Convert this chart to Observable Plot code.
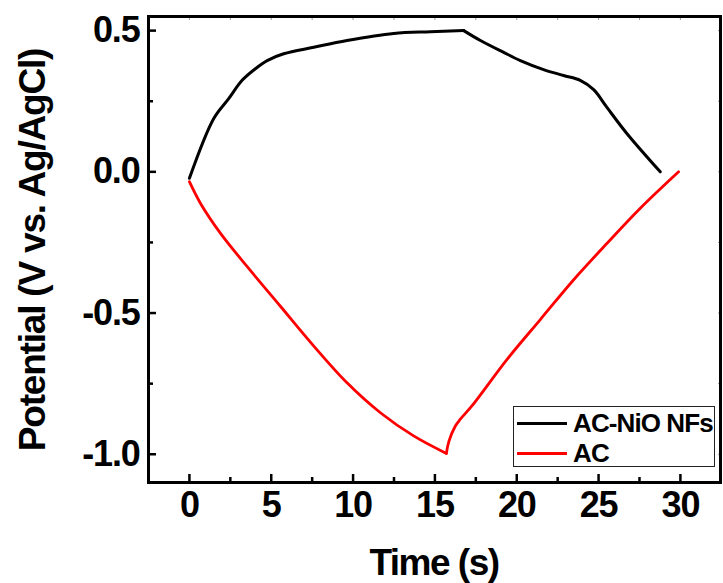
<!DOCTYPE html>
<html>
<head>
<meta charset="utf-8">
<script src="https://cdn.jsdelivr.net/npm/d3@7"></script>
<script src="https://cdn.jsdelivr.net/npm/@observablehq/plot@0.6"></script>
<style>
  html, body { margin: 0; padding: 0; background: #fff; }
  #chart { position: relative; width: 723px; height: 583px; }
  .legend { position: absolute; left: 513px; top: 406px; width: 202px; height: 61px;
    border: 1.5px solid #222; background: #fff; box-sizing: border-box;
    font-family: "Liberation Sans", Arial, sans-serif; font-weight: bold; font-size: 26px; letter-spacing: -0.9px; }
  .legend .row { position: absolute; left: 3px; height: 28px; display: flex; align-items: center; }
  .legend .sw { width: 50px; height: 0; border-top: 3px solid; margin-right: 6px; }
</style>
</head>
<body>
<div id="chart"></div>
<script>
// Series: AC-NiO NFs (black)
const nioTime = [0, 1.48, 2.4, 3.22, 4.03, 4.75, 5.76, 7.6, 9.63, 12.48, 14.72, 16.76, 17.78, 19.2, 20.22, 21.64, 22.86, 23.88, 24.7, 25.5, 26.74, 28.77];
const nioPotential = [-0.023, 0.188, 0.259, 0.324, 0.365, 0.394, 0.418, 0.441, 0.465, 0.49, 0.496, 0.5, 0.465, 0.423, 0.394, 0.362, 0.341, 0.324, 0.291, 0.229, 0.135, 0.0];
// Series: AC (red)
const acTime = [0, 0.67, 1.89, 3.52, 5.56, 7.6, 9.63, 11.67, 13.7, 15.7, 15.85, 16.25, 16.55, 17.26, 19.41, 21.44, 23.48, 25.52, 27.55, 29.89];
const acPotential = [-0.035, -0.111, -0.217, -0.335, -0.476, -0.617, -0.747, -0.853, -0.935, -0.997, -0.955, -0.9, -0.876, -0.829, -0.664, -0.523, -0.382, -0.253, -0.129, 0.0];
// turning points (end of charge / discharge branch)
const nioTurnTime = 16.76;
const acTurnTime = 15.7;

const seriesNames = ["AC-NiO NFs", "AC"];
const seriesColors = ["#000000", "#ff0000"];

const xTicks = [0, 5, 10, 15, 20, 25, 30];
const xTickLabels = ["0", "5", "10", "15", "20", "25", "30"];
const xMinor = [2.5, 7.5, 12.5, 17.5, 22.5, 27.5];
const yTicks = [0.5, 0.0, -0.5, -1.0];
const yTickLabels = ["0.5", "0.0", "-0.5", "-1.0"];
const yMinor = [0.25, -0.25, -0.75];
const xTitle = "Time (s)";
const yTitle = "Potential (V vs. Ag/AgCl)";

// split each series into its two branches (sharing the turning point)
function branches(times, values, turn) {
  const rows = [];
  times.forEach((t, i) => {
    if (t <= turn) rows.push({t, v: values[i], b: "a"});
    if (t >= turn) rows.push({t, v: values[i], b: "b"});
  });
  return rows;
}
const nio = branches(nioTime, nioPotential, nioTurnTime);
const ac = branches(acTime, acPotential, acTurnTime);

const font = "'Liberation Sans', Arial, sans-serif";
const blank = () => "";

const plot = Plot.plot({
  width: 723,
  height: 583,
  marginLeft: 148,
  marginRight: 3,
  marginTop: 16,
  marginBottom: 101,
  style: {fontFamily: font, background: "#fff", color: "#000"},
  x: {domain: [-2.5, 32.45]},
  y: {domain: [-1.1, 0.55]},
  marks: [
    // top/right faint ticks
    Plot.axisX({anchor: "top", ticks: [...xTicks, ...xMinor], tickSize: -3, tickFormat: blank, label: null, stroke: "#999", strokeWidth: 1}),
    Plot.axisY({anchor: "right", ticks: [...yTicks, ...yMinor], tickSize: -3, tickFormat: blank, label: null, stroke: "#999", strokeWidth: 1}),
    // inward ticks
    Plot.axisX({ticks: xTicks, tickSize: -8, tickFormat: blank, label: null, strokeWidth: 2.5}),
    Plot.axisX({ticks: xMinor, tickSize: -5, tickFormat: blank, label: null, strokeWidth: 2.5}),
    Plot.axisY({ticks: yTicks, tickSize: -8, tickFormat: blank, label: null, strokeWidth: 2.5}),
    Plot.axisY({ticks: yMinor, tickSize: -5, tickFormat: blank, label: null, strokeWidth: 2.5}),
    // tick labels
    Plot.axisX({ticks: xTicks, tickSize: 0, tickPadding: 9, tickFormat: (d) => xTickLabels[xTicks.indexOf(d)], label: null,
      fontSize: 36, fontWeight: "bold", fill: "#000"}),
    Plot.axisY({ticks: yTicks, tickSize: 0, tickPadding: 9, tickFormat: (d) => yTickLabels[yTicks.indexOf(d)], label: null,
      fontSize: 36, fontWeight: "bold", fill: "#000"}),
    Plot.line(nio, {x: "t", y: "v", z: "b", stroke: seriesColors[0], strokeWidth: 3, curve: "catmull-rom"}),
    Plot.line(ac, {x: "t", y: "v", z: "b", stroke: seriesColors[1], strokeWidth: 2.8, curve: "catmull-rom"}),
    Plot.frame({stroke: "#000", strokeWidth: 3})
  ]
});

const svg = d3.select(plot);
svg.selectAll("g[aria-label$='tick label'] text").style("letter-spacing", "-1.2px");
svg.append("text")
  .attr("x", 434).attr("y", 575)
  .attr("text-anchor", "middle")
  .attr("font-family", font).attr("font-weight", "bold").attr("font-size", 37)
  .attr("letter-spacing", "-1.5px")
  .text(xTitle);
svg.append("text")
  .attr("transform", "translate(45,250) rotate(-90)")
  .attr("text-anchor", "middle")
  .attr("font-family", font).attr("font-weight", "bold").attr("font-size", 37)
  .attr("letter-spacing", "-1.2px")
  .text(yTitle);

const chart = document.getElementById("chart");
chart.appendChild(plot);

const legend = document.createElement("div");
legend.className = "legend";
seriesNames.forEach((name, i) => {
  const row = document.createElement("div");
  row.className = "row";
  row.style.top = (i * 30 + 2) + "px";
  const sw = document.createElement("div");
  sw.className = "sw";
  sw.style.borderTopColor = seriesColors[i];
  const label = document.createElement("span");
  label.textContent = name;
  row.appendChild(sw);
  row.appendChild(label);
  legend.appendChild(row);
});
chart.appendChild(legend);
</script>
</body>
</html>
